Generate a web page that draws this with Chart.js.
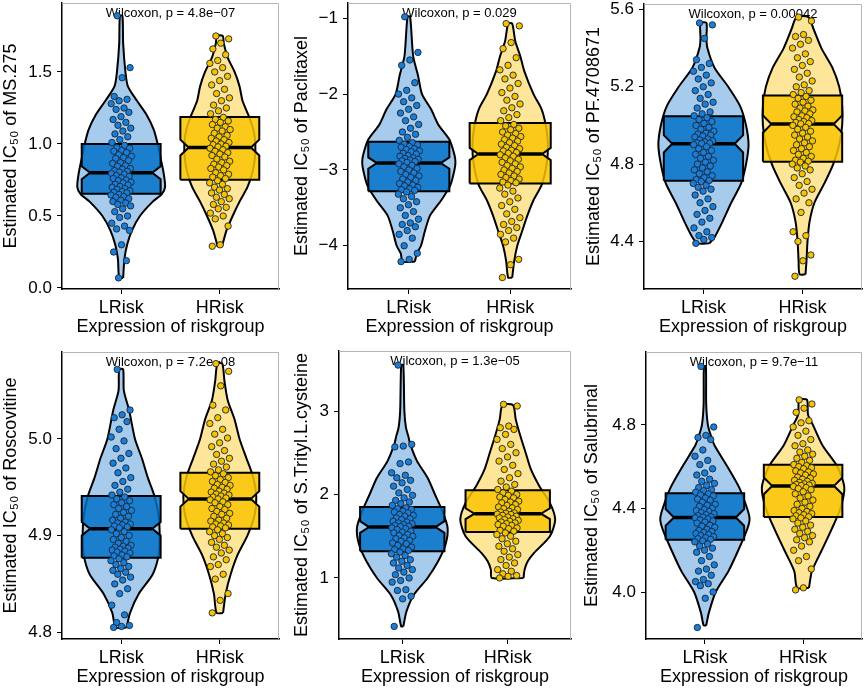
<!DOCTYPE html>
<html><head><meta charset="utf-8">
<script src="https://cdn.jsdelivr.net/npm/chart.js@4.4.1/dist/chart.umd.min.js"></script>
<style>
html,body{margin:0;padding:0;background:#fff;}
#wrap{position:relative;width:865px;height:690px;overflow:hidden;background:#fff;}
#wrap canvas{position:absolute;}
</style></head><body><div id="wrap"></div>
<script>
// ---------- categories ----------
const groups = ['LRisk', 'HRisk'];
const xTitle = 'Expression of riskgroup';

// ---------- MS.275 ----------
const ms275Low = [1.89,1.53,1.46,1.33,1.31,1.30,1.28,1.25,1.24,1.22,1.19,1.17,1.15,1.13,1.11,1.09,1.07,1.05,1.03,1.01,
0.99,0.975,0.97,0.955,0.95,0.94,0.925,0.915,0.905,0.90,0.885,0.87,0.865,0.85,0.845,0.83,0.825,0.815,0.81,0.805,
0.795,0.79,0.78,0.775,0.765,0.76,0.75,0.745,0.735,0.73,0.72,0.715,0.705,0.70,0.69,0.685,0.675,0.67,0.665,0.66,
0.65,0.645,0.635,0.63,0.62,0.61,0.60,0.59,0.58,0.57,0.55,0.53,0.50,0.49,0.45,0.43,0.41,0.40,0.30,0.25,0.19,0.07];
const ms275High = [1.75,1.73,1.70,1.66,1.62,1.58,1.56,1.53,1.50,1.47,1.44,1.41,1.38,1.35,1.32,1.30,1.27,1.25,1.23,1.21,
1.185,1.17,1.16,1.15,1.135,1.12,1.11,1.10,1.09,1.075,1.06,1.05,1.04,1.03,1.02,1.01,1.0,0.995,0.985,0.98,
0.97,0.96,0.95,0.94,0.93,0.92,0.91,0.895,0.88,0.87,0.86,0.85,0.84,0.83,0.82,0.80,0.79,0.78,0.77,0.76,
0.745,0.73,0.72,0.70,0.69,0.68,0.66,0.65,0.63,0.62,0.60,0.58,0.56,0.55,0.52,0.50,0.48,0.43,0.30,0.29];
const ms275LowBox = [0.655, 0.755, 0.80, 0.845, 1.0];      // q1, notch low, median, notch high, q3
const ms275HighBox = [0.752, 0.92, 0.975, 1.03, 1.188];
const ms275LowDensY = [1.89,1.7,1.5,1.4,1.3,1.2,1.1,1.0,0.9,0.8,0.7,0.65,0.6,0.5,0.4,0.3,0.2,0.07];
const ms275LowDens  = [0.013,0.02,0.043,0.068,0.16,0.26,0.33,0.37,0.40,0.43,0.445,0.41,0.32,0.19,0.11,0.06,0.033,0.02];
const ms275HighDensY = [1.75,1.7,1.6,1.5,1.4,1.3,1.2,1.1,1.0,0.9,0.8,0.7,0.6,0.5,0.4,0.3,0.29];
const ms275HighDens  = [0.03,0.04,0.08,0.15,0.20,0.23,0.29,0.34,0.36,0.355,0.33,0.28,0.20,0.13,0.068,0.027,0.025];
const ms275Ticks = [0, 0.5, 1.0, 1.5];
const ms275TickLabels = ['0.0', '0.5', '1.0', '1.5'];

// ---------- Paclitaxel ----------
const paclitaxelLow = [-0.98,-1.45,-1.55,-1.62,-1.85,-1.95,-2.0,-2.05,-2.1,-2.15,-2.2,-2.25,-2.3,-2.35,-2.4,-2.45,-2.5,-2.53,-2.57,-2.61,
-2.64,-2.66,-2.67,-2.69,-2.70,-2.72,-2.73,-2.75,-2.76,-2.78,-2.79,-2.81,-2.82,-2.84,-2.85,-2.86,-2.87,-2.88,-2.89,-2.90,
-2.92,-2.94,-2.96,-2.98,-3.0,-3.02,-3.04,-3.06,-3.08,-3.10,-3.12,-3.14,-3.16,-3.18,-3.20,-3.21,-3.23,-3.25,-3.26,-3.27,
-3.29,-3.32,-3.35,-3.38,-3.42,-3.46,-3.5,-3.55,-3.6,-3.65,-3.7,-3.72,-3.75,-3.8,-3.85,-3.9,-4.0,-4.1,-4.18,-4.21];
const paclitaxelHigh = [-1.07,-1.10,-1.32,-1.40,-1.52,-1.62,-1.68,-1.75,-1.80,-1.86,-1.92,-1.98,-2.03,-2.08,-2.13,-2.18,-2.22,-2.27,-2.31,-2.35,
-2.40,-2.42,-2.45,-2.47,-2.50,-2.52,-2.54,-2.56,-2.58,-2.60,-2.62,-2.64,-2.66,-2.68,-2.70,-2.72,-2.74,-2.75,-2.77,-2.78,
-2.80,-2.82,-2.84,-2.86,-2.88,-2.90,-2.92,-2.94,-2.96,-2.98,-3.0,-3.02,-3.04,-3.06,-3.08,-3.10,-3.12,-3.14,-3.16,-3.17,
-3.20,-3.24,-3.28,-3.32,-3.37,-3.42,-3.47,-3.52,-3.58,-3.63,-3.68,-3.72,-3.76,-3.80,-3.85,-3.90,-3.95,-4.18,-4.25,-4.42];
const paclitaxelLowBox = [-3.28, -2.985, -2.91, -2.835, -2.63];
const paclitaxelHighBox = [-3.18, -2.87, -2.79, -2.71, -2.38];
const paclitaxelLowDensY = [-0.98,-1.5,-1.75,-2.0,-2.2,-2.4,-2.6,-2.8,-2.9,-3.0,-3.2,-3.4,-3.6,-3.8,-4.0,-4.1,-4.21];
const paclitaxelLowDens  = [0.013,0.043,0.09,0.13,0.22,0.29,0.40,0.45,0.46,0.45,0.41,0.32,0.21,0.16,0.12,0.08,0.06];
const paclitaxelHighDensY = [-1.07,-1.3,-1.5,-1.7,-2.0,-2.2,-2.4,-2.6,-2.8,-3.0,-3.2,-3.4,-3.6,-3.8,-4.0,-4.2,-4.42];
const paclitaxelHighDens  = [0.02,0.05,0.10,0.14,0.23,0.31,0.35,0.37,0.37,0.35,0.31,0.23,0.17,0.12,0.07,0.04,0.02];
const paclitaxelTicks = [-4, -3, -2, -1];
const paclitaxelTickLabels = ['\u22124', '\u22123', '\u22122', '\u22121'];

// ---------- PF.4708671 ----------
const pfLow = [5.53,5.52,5.45,5.34,5.32,5.30,5.28,5.26,5.24,5.22,5.20,5.18,5.16,5.14,5.12,5.11,5.09,5.07,5.06,5.05,
5.04,5.03,5.02,5.01,5.0,4.99,4.98,4.97,4.96,4.955,4.95,4.945,4.94,4.93,4.925,4.92,4.915,4.91,4.908,4.906,
4.90,4.89,4.88,4.87,4.86,4.85,4.84,4.83,4.82,4.81,4.80,4.79,4.78,4.77,4.76,4.75,4.74,4.73,4.72,4.715,
4.71,4.70,4.69,4.68,4.67,4.66,4.64,4.62,4.60,4.58,4.56,4.54,4.52,4.50,4.47,4.45,4.43,4.42,4.41,4.39];
const pfHigh = [5.56,5.54,5.47,5.46,5.44,5.42,5.40,5.37,5.35,5.33,5.31,5.29,5.27,5.25,5.23,5.21,5.20,5.18,5.17,5.16,
5.15,5.14,5.13,5.12,5.11,5.10,5.09,5.08,5.075,5.07,5.06,5.05,5.045,5.04,5.03,5.025,5.02,5.015,5.01,5.008,
5.0,4.99,4.98,4.97,4.96,4.95,4.94,4.93,4.92,4.91,4.90,4.89,4.88,4.87,4.86,4.85,4.84,4.83,4.82,4.815,
4.81,4.80,4.79,4.78,4.77,4.75,4.73,4.71,4.69,4.67,4.65,4.62,4.60,4.55,4.45,4.43,4.40,4.33,4.30,4.22];
const pfLowBox = [4.714, 4.86, 4.905, 4.95, 5.047];
const pfHighBox = [4.812, 4.962, 5.007, 5.052, 5.155];
const pfLowDensY = [5.53,5.45,5.4,5.3,5.2,5.1,5.0,4.9,4.8,4.7,4.6,4.5,4.42,4.39];
const pfLowDens  = [0.03,0.03,0.04,0.11,0.25,0.37,0.43,0.455,0.43,0.38,0.28,0.19,0.11,0.06];
const pfHighDensY = [5.56,5.5,5.4,5.3,5.2,5.1,5.0,4.9,4.8,4.7,4.6,4.5,4.4,4.3,4.23];
const pfHighDens  = [0.06,0.11,0.19,0.30,0.37,0.40,0.40,0.37,0.31,0.22,0.12,0.07,0.05,0.04,0.03];
const pfTicks = [4.4, 4.8, 5.2, 5.6];
const pfTickLabels = ['4.4', '4.8', '5.2', '5.6'];

// ---------- Roscovitine ----------
const roscoLow = [5.072,5.030,5.025,5.022,5.018,5.010,5.002,4.998,4.990,4.985,4.980,4.975,4.970,4.965,4.960,4.956,4.952,4.948,4.945,4.942,
4.940,4.938,4.936,4.934,4.932,4.930,4.928,4.926,4.924,4.922,4.920,4.918,4.916,4.914,4.913,4.912,4.911,4.910,4.909,4.908,
4.906,4.904,4.902,4.900,4.898,4.896,4.894,4.892,4.890,4.889,4.888,4.887,4.886,4.885,4.884,4.883,4.882,4.880,4.879,4.878,
4.876,4.874,4.872,4.870,4.868,4.866,4.864,4.862,4.860,4.857,4.854,4.850,4.845,4.840,4.828,4.818,4.810,4.807,4.806,4.805];
const roscoHigh = [5.078,5.070,5.055,5.035,5.030,5.022,5.016,5.010,5.005,5.001,4.996,4.992,4.988,4.984,4.980,4.977,4.974,4.971,4.968,4.966,
4.964,4.962,4.960,4.958,4.956,4.955,4.953,4.952,4.950,4.949,4.948,4.946,4.945,4.944,4.943,4.942,4.941,4.940,4.939,4.938,
4.937,4.935,4.934,4.932,4.930,4.928,4.927,4.925,4.923,4.922,4.920,4.918,4.916,4.915,4.913,4.912,4.911,4.910,4.909,4.908,
4.906,4.904,4.902,4.900,4.898,4.896,4.893,4.890,4.888,4.885,4.882,4.878,4.875,4.870,4.868,4.860,4.855,4.840,4.833,4.820];
const roscoLowBox = [4.877, 4.9, 4.907, 4.914, 4.941];
const roscoHighBox = [4.907, 4.93, 4.938, 4.946, 4.965];
const roscoLowDensY = [5.072,5.05,5.03,5.0,4.98,4.96,4.94,4.92,4.90,4.88,4.86,4.84,4.82,4.805];
const roscoLowDens  = [0.02,0.027,0.08,0.14,0.21,0.27,0.34,0.38,0.39,0.38,0.32,0.18,0.09,0.055];
const roscoHighDensY = [5.078,5.06,5.04,5.02,5.0,4.98,4.96,4.94,4.92,4.90,4.88,4.86,4.84,4.82];
const roscoHighDens  = [0.025,0.047,0.08,0.15,0.20,0.27,0.34,0.37,0.35,0.28,0.18,0.11,0.06,0.033];
const roscoTicks = [4.8, 4.9, 5.0];
const roscoTickLabels = ['4.8', '4.9', '5.0'];

// ---------- S.Trityl.L.cysteine ----------
const tritylLow = [3.55,2.60,2.58,2.57,2.39,2.37,2.26,2.23,2.20,2.17,2.14,2.10,2.06,2.02,1.99,1.96,1.93,1.91,1.89,1.87,
1.84,1.83,1.82,1.80,1.79,1.78,1.76,1.75,1.74,1.72,1.71,1.70,1.68,1.67,1.66,1.65,1.64,1.63,1.62,1.615,
1.60,1.59,1.58,1.56,1.55,1.54,1.52,1.51,1.50,1.48,1.47,1.45,1.44,1.42,1.41,1.39,1.37,1.35,1.34,1.33,
1.31,1.29,1.27,1.25,1.22,1.20,1.18,1.15,1.12,1.10,1.07,1.04,1.00,0.97,0.95,0.86,0.85,0.78,0.75,0.42];
const tritylHigh = [3.08,3.06,2.82,2.80,2.78,2.72,2.66,2.60,2.55,2.50,2.45,2.40,2.35,2.30,2.25,2.20,2.16,2.12,2.09,2.06,
2.04,2.02,2.00,1.99,1.97,1.96,1.94,1.92,1.91,1.90,1.88,1.87,1.85,1.84,1.83,1.82,1.80,1.79,1.78,1.775,
1.765,1.76,1.75,1.74,1.73,1.72,1.71,1.70,1.69,1.68,1.67,1.66,1.65,1.64,1.63,1.62,1.60,1.59,1.57,1.56,
1.54,1.52,1.50,1.47,1.44,1.41,1.38,1.35,1.32,1.28,1.25,1.22,1.18,1.15,1.10,1.08,1.05,1.03,1.02,1.00];
const tritylLowBox = [1.32, 1.54, 1.61, 1.68, 1.85];
const tritylHighBox = [1.55, 1.705, 1.77, 1.835, 2.05];
const tritylLowDensY = [3.55,3.0,2.8,2.7,2.6,2.4,2.2,2.0,1.8,1.6,1.4,1.2,1.0,0.8,0.6,0.42];
const tritylLowDens  = [0.01,0.02,0.035,0.057,0.076,0.14,0.24,0.31,0.38,0.43,0.41,0.34,0.24,0.11,0.04,0.01];
const tritylHighDensY = [3.07,2.9,2.7,2.5,2.3,2.1,1.9,1.7,1.5,1.3,1.2,1.1,1.0];
const tritylHighDens  = [0.05,0.076,0.12,0.17,0.22,0.30,0.40,0.45,0.40,0.25,0.19,0.16,0.15];
const tritylTicks = [1, 2, 3];
const tritylTickLabels = ['1', '2', '3'];

// ---------- Salubrinal ----------
const salubLow = [5.08,4.79,4.75,4.74,4.73,4.68,4.65,4.63,4.61,4.59,4.57,4.56,4.54,4.53,4.52,4.51,4.50,4.49,4.485,4.478,
4.47,4.465,4.46,4.45,4.445,4.44,4.43,4.42,4.415,4.41,4.40,4.395,4.39,4.385,4.38,4.375,4.37,4.365,4.36,4.358,
4.355,4.35,4.345,4.34,4.335,4.33,4.32,4.315,4.31,4.30,4.295,4.29,4.285,4.28,4.275,4.27,4.265,4.26,4.255,4.252,
4.245,4.24,4.23,4.22,4.21,4.20,4.19,4.17,4.15,4.13,4.11,4.10,4.08,4.06,4.05,4.04,4.03,4.00,3.97,3.83];
const salubHigh = [4.92,4.90,4.88,4.86,4.82,4.81,4.79,4.77,4.75,4.73,4.71,4.70,4.68,4.67,4.66,4.65,4.64,4.63,4.62,4.61,
4.605,4.60,4.595,4.59,4.58,4.575,4.57,4.565,4.56,4.55,4.545,4.54,4.535,4.53,4.525,4.52,4.518,4.515,4.512,4.51,
4.505,4.50,4.495,4.49,4.48,4.47,4.46,4.45,4.44,4.43,4.42,4.41,4.40,4.39,4.385,4.38,4.375,4.37,4.365,4.36,
4.355,4.35,4.34,4.33,4.32,4.31,4.30,4.29,4.28,4.27,4.26,4.25,4.24,4.22,4.20,4.17,4.15,4.11,4.02,4.01];
const salubLowBox = [4.25, 4.317, 4.357, 4.397, 4.473];
const salubHighBox = [4.359, 4.468, 4.508, 4.548, 4.609];
const salubLowDensY = [5.08,4.9,4.8,4.75,4.7,4.6,4.5,4.4,4.35,4.3,4.2,4.1,4.0,3.9,3.84];
const salubLowDens  = [0.01,0.013,0.03,0.06,0.10,0.23,0.35,0.43,0.455,0.43,0.34,0.24,0.11,0.04,0.013];
const salubHighDensY = [4.92,4.85,4.8,4.7,4.6,4.5,4.4,4.3,4.2,4.1,4.02];
const salubHighDens  = [0.04,0.05,0.10,0.20,0.35,0.42,0.38,0.29,0.19,0.09,0.06];
const salubTicks = [4.0, 4.4, 4.8];
const salubTickLabels = ['4.0', '4.4', '4.8'];

// ---------- panel table (layout kept separate from data) ----------
const panels = [
  {yTitle:'Estimated IC\u2085\u2080 of MS.275', test:'Wilcoxon, p = 4.8e\u221207', yMin:-0.007, yMax:1.979,
   ticks:ms275Ticks, labels:ms275TickLabels, low:ms275Low, high:ms275High, lowBox:ms275LowBox, highBox:ms275HighBox,
   lowDY:ms275LowDensY, lowD:ms275LowDens, highDY:ms275HighDensY, highD:ms275HighDens,
   cv:[0,0,290,345], pad:{top:3,right:11}, yW:62, xH:56, yTP:0, xTP:7},
  {yTitle:'Estimated IC\u2085\u2080 of Paclitaxel', test:'Wilcoxon, p = 0.029', yMin:-4.571, yMax:-0.798,
   ticks:paclitaxelTicks, labels:paclitaxelTickLabels, low:paclitaxelLow, high:paclitaxelHigh, lowBox:paclitaxelLowBox, highBox:paclitaxelHighBox,
   lowDY:paclitaxelLowDensY, lowD:paclitaxelLowDens, highDY:paclitaxelHighDensY, highD:paclitaxelHighDens,
   cv:[290,0,288,345], pad:{top:3,right:7}, yW:58, xH:56, yTP:1, xTP:7},
  {yTitle:'Estimated IC\u2085\u2080 of PF.4708671', test:'Wilcoxon, p = 0.00042', yMin:4.154, yMax:5.628,
   ticks:pfTicks, labels:pfTickLabels, low:pfLow, high:pfHigh, lowBox:pfLowBox, highBox:pfHighBox,
   lowDY:pfLowDensY, lowD:pfLowDens, highDY:pfHighDensY, highD:pfHighDens,
   cv:[578,0,287,345], pad:{top:4,right:3}, yW:66, xH:56, yTP:5, xTP:7},
  {yTitle:'Estimated IC\u2085\u2080 of Roscovitine', test:'Wilcoxon, p = 7.2e\u221208', yMin:4.793, yMax:5.090,
   ticks:roscoTicks, labels:roscoTickLabels, low:roscoLow, high:roscoHigh, lowBox:roscoLowBox, highBox:roscoHighBox,
   lowDY:roscoLowDensY, lowD:roscoLowDens, highDY:roscoHighDensY, highD:roscoHighDens,
   cv:[0,345,290,345], pad:{top:7,right:11}, yW:62, xH:51, yTP:0, xTP:2},
  {yTitle:'Estimated IC\u2085\u2080 of S.Trityl.L.cysteine', test:'Wilcoxon, p = 1.3e\u221205', yMin:0.269, yMax:3.719,
   ticks:tritylTicks, labels:tritylTickLabels, low:tritylLow, high:tritylHigh, lowBox:tritylLowBox, highBox:tritylHighBox,
   lowDY:tritylLowDensY, lowD:tritylLowDens, highDY:tritylHighDensY, highD:tritylHighDens,
   cv:[290,345,288,345], pad:{top:6,right:7}, yW:49, xH:51, yTP:1, xTP:2},
  {yTitle:'Estimated IC\u2085\u2080 of Salubrinal', test:'Wilcoxon, p = 9.7e\u221211', yMin:3.775, yMax:5.149,
   ticks:salubTicks, labels:salubTickLabels, low:salubLow, high:salubHigh, lowBox:salubLowBox, highBox:salubHighBox,
   lowDY:salubLowDensY, lowD:salubLowDens, highDY:salubHighDensY, highD:salubHighDens,
   cv:[578,345,287,345], pad:{top:7,right:3}, yW:68, xH:51, yTP:3, xTP:2}
];

// ---------- styles ----------
const FONT = "'Liberation Sans', Arial, Helvetica, sans-serif";
Chart.defaults.font.family = FONT;
Chart.defaults.color = '#000';
const colors = {
  low:  {violin:'#a6cbec', box:'rgba(0,112,200,0.84)', point:'#1a7ed8'},
  high: {violin:'#fde599', box:'rgba(249,195,0,0.84)', point:'#f7c200'}
};
const BOX_HALF = 0.4, NOTCH_IN = 0.085, JITTER = 0.105;

function violinPath(c, ys, ws) {
  const right = ys.map((y, i) => ({x: c + ws[i], y})).reverse();
  const left = ys.map((y, i) => ({x: c - ws[i], y}));
  const pts = right.concat(left);
  pts.push(pts[0]);
  return pts;
}
function boxPath(c, s) {
  const b = BOX_HALF, n = NOTCH_IN;
  return [{x:c-b,y:s[0]},{x:c+b,y:s[0]},{x:c+b,y:s[1]},{x:c+b-n,y:s[2]},{x:c+b,y:s[3]},{x:c+b,y:s[4]},
          {x:c-b,y:s[4]},{x:c-b,y:s[3]},{x:c-b+n,y:s[2]},{x:c-b,y:s[1]},{x:c-b,y:s[0]}];
}
function jitter(i) { return (((i * 0.6180339887 + 0.31) % 1) * 2 - 1) * JITTER; }

const framePlugin = {
  id: 'frame',
  beforeDatasetsDraw(chart, args, opts) {
    const {ctx, chartArea: a} = chart;
    ctx.save();
    ctx.font = '13px ' + FONT;
    ctx.fillStyle = '#000';
    ctx.textAlign = 'center';
    ctx.textBaseline = 'alphabetic';
    ctx.fillText(opts.text, (a.left + a.right) / 2, a.top + 13.5);
    ctx.restore();
  },
  afterDraw(chart) {
    const {ctx, chartArea: a} = chart;
    ctx.save();
    ctx.strokeStyle = '#b4b4b4';
    ctx.lineWidth = 1;
    ctx.beginPath();
    ctx.moveTo(a.left, a.top + 0.5);
    ctx.lineTo(a.right - 0.5, a.top + 0.5);
    ctx.lineTo(a.right - 0.5, a.bottom);
    ctx.stroke();
    ctx.restore();
  }
};

const wrap = document.getElementById('wrap');
panels.forEach(p => {
  const cv = document.createElement('canvas');
  cv.width = p.cv[2]; cv.height = p.cv[3];
  cv.style.left = p.cv[0] + 'px'; cv.style.top = p.cv[1] + 'px';
  cv.style.width = p.cv[2] + 'px'; cv.style.height = p.cv[3] + 'px';
  wrap.appendChild(cv);

  const ds = [];
  const sets = [['low', 1, p.low, p.lowBox, p.lowDY, p.lowD], ['high', 2, p.high, p.highBox, p.highDY, p.highD]];
  sets.forEach(([key, c, vals, box, dy, d]) => {
    const col = colors[key];
    ds.push({label: groups[c-1] + ' violin', data: violinPath(c, dy, d), showLine: true, fill: 'shape',
      backgroundColor: col.violin, borderColor: '#000', borderWidth: 2, tension: 0.25, pointRadius: 0, order: 4});
    ds.push({label: groups[c-1] + ' box', data: boxPath(c, box), showLine: true, fill: 'shape',
      backgroundColor: col.box, borderColor: '#000', borderWidth: 2, tension: 0, pointRadius: 0, order: 3});
    ds.push({label: groups[c-1] + ' median', data: [{x: c - BOX_HALF + NOTCH_IN, y: box[2]}, {x: c + BOX_HALF - NOTCH_IN, y: box[2]}],
      showLine: true, fill: false, borderColor: '#000', borderWidth: 3.5, tension: 0, pointRadius: 0, order: 2});
    ds.push({label: groups[c-1], data: vals.map((v, i) => ({x: c + jitter(i), y: v})), showLine: false,
      backgroundColor: col.point, borderColor: '#1a2633', borderWidth: 0.9, pointRadius: 3.2, order: 1});
  });

  new Chart(cv, {
    type: 'scatter',
    data: {datasets: ds},
    plugins: [framePlugin],
    options: {
      responsive: false, animation: false, events: [],
      layout: {autoPadding: false, padding: {top: p.pad.top, right: p.pad.right, left: 0, bottom: 0}},
      plugins: {legend: {display: false}, tooltip: {enabled: false}, frame: {text: p.test}},
      scales: {
        x: {
          type: 'linear', min: 0.4, max: 2.6,
          afterBuildTicks: s => { s.ticks = [1, 2].map(v => ({value: v})); },
          afterFit: s => { s.height = p.xH; s.paddingLeft = 0; s.paddingRight = 0; },
          ticks: {callback: v => groups[Math.round(v) - 1] || '', font: {size: 18}, color: '#000', padding: 3, maxRotation: 0, autoSkip: false},
          grid: {drawOnChartArea: false, drawTicks: true, tickLength: 5, color: '#000', lineWidth: 1},
          border: {display: true, color: '#000', width: 1.5},
          title: {display: true, text: xTitle, font: {size: 18}, color: '#000', padding: {top: 0, bottom: p.xTP}}
        },
        y: {
          type: 'linear', min: p.yMin, max: p.yMax,
          afterBuildTicks: s => { s.ticks = p.ticks.map(v => ({value: v})); },
          afterFit: s => { s.width = p.yW; s.paddingTop = 0; s.paddingBottom = 0; },
          ticks: {callback: v => { const k = p.ticks.findIndex(t => Math.abs(t - v) < 1e-9); return k >= 0 ? p.labels[k] : ''; },
                  font: {size: 17}, color: '#000', padding: 5, autoSkip: false},
          grid: {drawOnChartArea: false, drawTicks: true, tickLength: 5, color: '#000', lineWidth: 1},
          border: {display: true, color: '#000', width: 1.5},
          title: {display: true, text: p.yTitle, font: {size: 18}, color: '#000', padding: {top: p.yTP, bottom: 0}}
        }
      }
    }
  });
});
</script>
</body></html>
